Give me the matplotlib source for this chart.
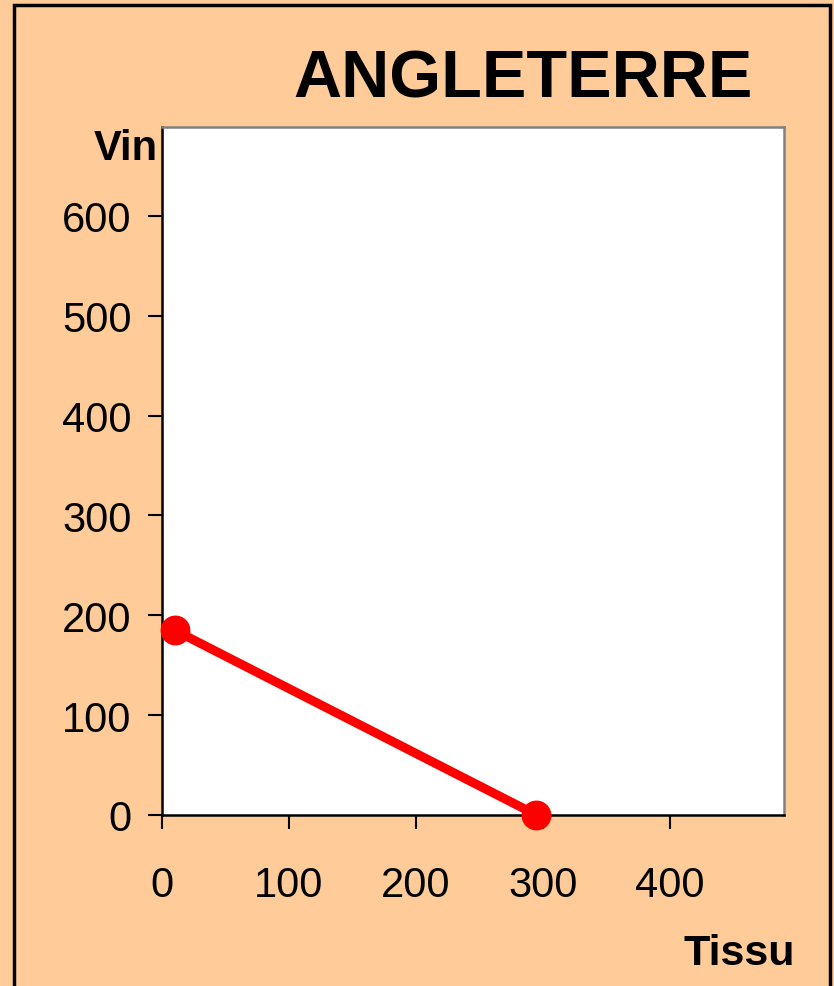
import matplotlib
matplotlib.use("Agg")
import matplotlib.pyplot as plt
from matplotlib.patches import Rectangle

# Data
tissu = [10, 295]
vin = [185, 0]
xticks = [0, 100, 200, 300, 400]
yticks = [0, 100, 200, 300, 400, 500, 600]
title = "ANGLETERRE"
xlabel = "Tissu"
ylabel = "Vin"

plt.rcParams['font.family'] = ['Liberation Sans', 'DejaVu Sans']

W, H = 834, 987
fig = plt.figure(figsize=(W / 100, H / 100), dpi=100)
fig.patch.set_facecolor('#FFCC99')

# outer black frame
fig.patches.append(Rectangle((13.5 / W, -0.01), (830 - 13.5) / W, (987 - 5.5) / H + 0.01,
                             transform=fig.transFigure, fill=False,
                             edgecolor='black', linewidth=2.5, zorder=0))

ax = fig.add_axes([162 / W, (H - 816) / H, 622 / W, 688 / H])
ax.set_facecolor('white')
ax.plot(tissu, vin, color='#FF0000', linewidth=6.5, marker='o', markersize=20.5,
        clip_on=False, zorder=5)

ax.set_xlim(0, 490)
ax.set_ylim(0, 689)
ax.set_xticks(xticks)
ax.set_yticks(yticks)
ax.tick_params(axis='both', direction='out', length=10, width=1.5, labelsize=30,
               color='black', labelcolor='black')
ax.tick_params(axis='y', pad=12)
ax.tick_params(axis='x', pad=26)

for s in ['left', 'bottom']:
    ax.spines[s].set_color('black')
    ax.spines[s].set_linewidth(1.8)
for s in ['top', 'right']:
    ax.spines[s].set_color('#808080')
    ax.spines[s].set_linewidth(1.8)

fig.text(523 / W, 1 - 97 / H, title, ha='center', va='baseline',
         fontsize=48, fontweight='bold')
fig.text(158 / W, 1 - 160 / H, ylabel, ha='right', va='baseline',
         fontsize=30, fontweight='bold')
fig.text(795 / W, 1 - 965 / H, xlabel, ha='right', va='baseline',
         fontsize=31, fontweight='bold')

fig.savefig('out.png', dpi=100, facecolor=fig.get_facecolor())
